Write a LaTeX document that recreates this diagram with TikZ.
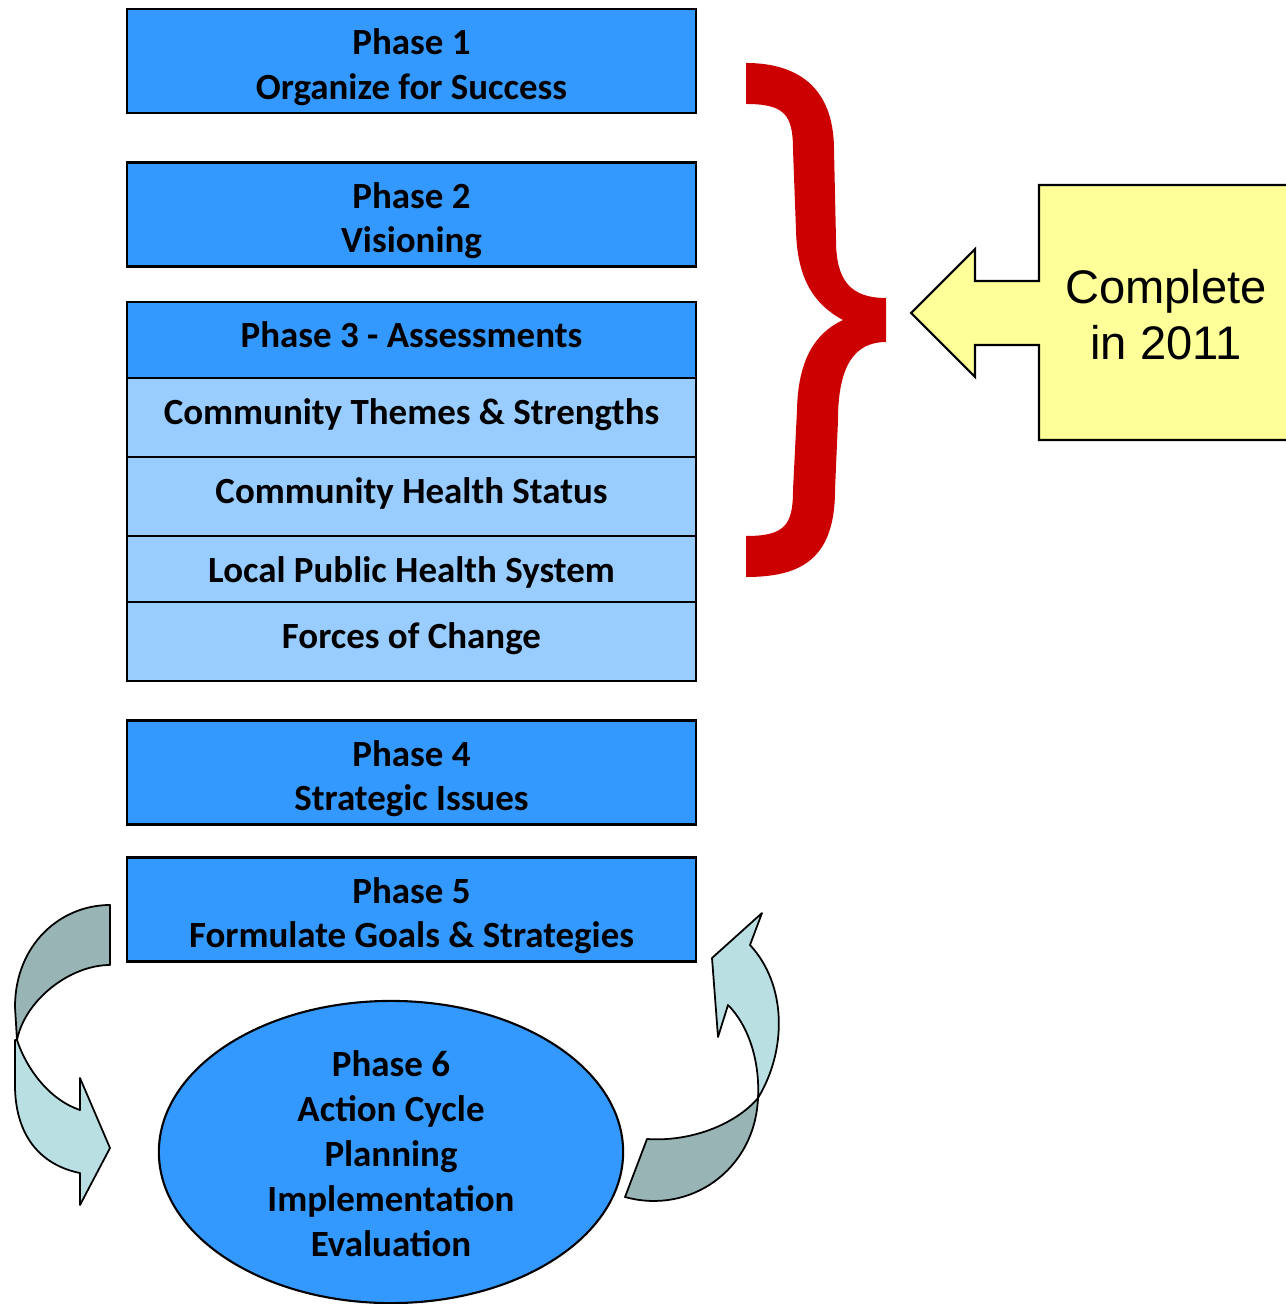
\documentclass[tikz,border=0pt]{standalone}
\usepackage{fontspec}
\setmainfont{Carlito}
\newfontfamily\arialfont{Liberation Sans}
\usetikzlibrary{positioning,shapes.geometric}
\definecolor{phaseblue}{RGB}{51,153,255}
\definecolor{subblue}{RGB}{153,204,255}
\definecolor{noteyellow}{RGB}{255,255,153}
\definecolor{bracered}{RGB}{204,0,0}
\definecolor{darkteal}{RGB}{152,180,180}
\definecolor{lightteal}{RGB}{185,223,227}
\tikzset{phase/.style = {rectangle,draw,fill=phaseblue,line width=0.6pt,minimum width=5.69cm,
                         minimum height=1.04cm,inner sep=0pt,outer sep=0pt,align=center,
                         text height=0.86cm,text depth=0.1cm,
                         font=\bfseries\fontsize{10.5}{12.6}\selectfont},
         sub/.style = {phase,fill=subblue},
         ribbon/.style = {draw,line width=0.5pt,line join=round}}

\begin{document}
\begin{tikzpicture}[x=0.01cm,y=-0.01cm]
                    \useasboundingbox (0,0) rectangle (1286,1304);
                    \node[phase] (p1) at (411.5,61) {Phase 1\\Organize for Success};
                    \node[phase] (p2) at (411.5,214.5) {Phase 2\\Visioning};
                    \node[phase,minimum height=0.76cm,text height=0.26cm] (p3) at (411.5,340) {Phase 3 - Assessments};
                    \foreach \name/\txt/\rowh/\txth [remember=\name as \prev (initially p3)] in
                        {cts/Community Themes \& Strengths/0.79/0.23, chs/Community Health Status/0.79/0.23,
                         lphs/Local Public Health System/0.66/0.36, foc/Forces of Change/0.79/0.23}
                        \node[sub,minimum height=\rowh cm,text height=\txth cm,below=0pt of \prev] (\name) {\txt};
                    \node[phase] (p4) at (411.5,772.5) {Phase 4\\Strategic Issues};
                    \node[phase] (p5) at (411.5,909.5) {Phase 5\\Formulate Goals \& Strategies};
                    \node[ellipse,draw,fill=phaseblue,line width=0.6pt,minimum width=4.64cm,
                          minimum height=3.02cm,inner sep=0pt] (p6) at (391,1152) {};
                    \node[align=center,inner sep=0pt,text height=2.18cm,text depth=0.1cm,
                          font=\bfseries\fontsize{10.5}{12.75}\selectfont] (p6txt) at (p6)
                        {Phase 6\\Action Cycle\\Planning\\Implementation\\Evaluation};
                    % brace over phases 1-3
                    \fill[bracered] (746,63) .. controls (795,63) and (834,85) .. (834,150)
                        -- (836,240) .. controls (836,280) and (850,298) .. (886,298)
                        -- (886,342) .. controls (855,342) and (838,365) .. (838,420)
                        -- (835,490) .. controls (835,560) and (800,577) .. (746,577)
                        -- (746,536) .. controls (785,536) and (793,525) .. (793,490)
                        -- (797,410) .. controls (798,360) and (815,333) .. (843,320)
                        .. controls (815,305) and (797,280) .. (796,230)
                        -- (793,150) .. controls (793,115) and (785,104) .. (746,104) -- cycle;
                    % callout
                    \fill[noteyellow] (1286,185) -- (1039,185) -- (1039,281) -- (975,281) -- (975,249)
                        -- (911,313) -- (975,377) -- (975,345) -- (1039,345) -- (1039,440) -- (1286,440) -- cycle;
                    \draw[line width=0.6pt] (1286,185) -- (1039,185) -- (1039,281) -- (975,281) -- (975,249)
                        -- (911,313) -- (975,377) -- (975,345) -- (1039,345) -- (1039,440) -- (1286,440);
                    \node[align=center,font=\arialfont\fontsize{13.4}{15.9}\selectfont] (note) at (1166,315)
                        {Complete\\in 2011};
                    % cycle arrows
                    \filldraw[ribbon,fill=darkteal] (110,905) .. controls (60,905) and (15,945) .. (15,1007)
                        -- (17,1040) .. controls (25,1000) and (70,965) .. (110,965) -- cycle;
                    \filldraw[ribbon,fill=lightteal] (17,1040) .. controls (27,1070) and (50,1100) .. (80,1110)
                        -- (80,1078) -- (110,1148) -- (80,1205) -- (80,1173)
                        .. controls (40,1165) and (15,1135) .. (15,1085) -- (15,1040) -- cycle;
                    \filldraw[ribbon,fill=lightteal] (758,1098) .. controls (787,1050) and (787,985) .. (750,945)
                        -- (762,913) -- (712,958) -- (718,1037) -- (728,1005)
                        .. controls (748,1025) and (760,1060) .. (758,1098) -- cycle;
                    \filldraw[ribbon,fill=darkteal] (625,1197) .. controls (690,1215) and (755,1170) .. (758,1098)
                        .. controls (735,1125) and (690,1142) .. (647,1139) -- cycle;
                \end{tikzpicture}
\end{document}
